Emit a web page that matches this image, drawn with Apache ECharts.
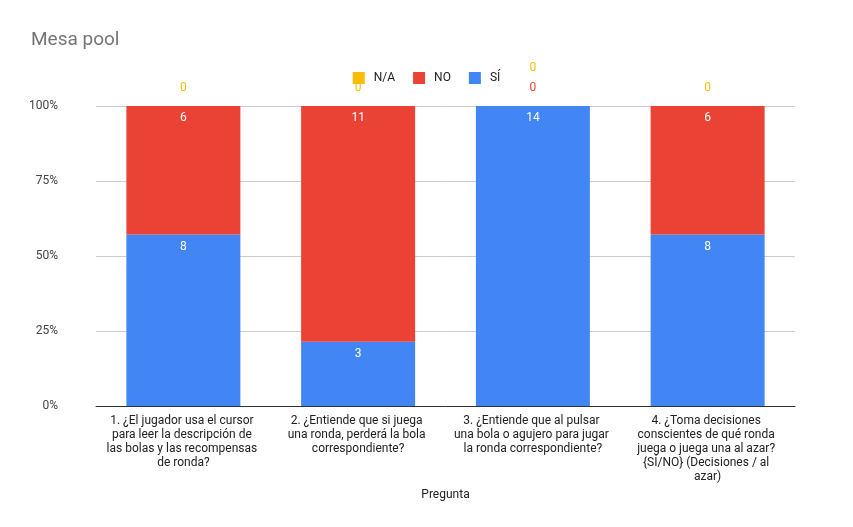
<!DOCTYPE html>
<html><head><meta charset="utf-8">
<script src="https://cdn.jsdelivr.net/npm/echarts@6/dist/echarts.min.js"></script>
<style>html,body{margin:0;padding:0;background:#fff}#c{width:853px;height:527px}</style>
</head><body><div id="c"></div>
<script>
var categories = [
  '1. ¿El jugador usa el cursor para leer la descripción de las bolas y las recompensas de ronda?',
  '2. ¿Entiende que si juega una ronda, perderá la bola correspondiente?',
  '3. ¿Entiende que al pulsar una bola o agujero para jugar la ronda correspondiente?',
  '4. ¿Toma decisiones conscientes de qué ronda juega o juega una al azar? {SÍ/NO} (Decisiones / al azar)'
];
var siValues = [8, 3, 14, 8];
var noValues = [6, 11, 0, 6];
var naValues = [0, 0, 0, 0];
var yTicks = ['0%', '25%', '50%', '75%', '100%'];

function pct(vals, i) {
  var t = siValues[i] + noValues[i] + naValues[i];
  return { value: vals[i] / t * 100, raw: vals[i] };
}
function build(vals, color, zeroDist) {
  return vals.map(function (v, i) {
    var d = pct(vals, i);
    if (v === 0) {
      d.label = { position: 'top', color: color, distance: zeroDist(i) };
    }
    return d;
  });
}
var font = 'Roboto, Arial, sans-serif';
var chart = echarts.init(document.getElementById('c'));
chart.setOption({
  animation: false,
  textStyle: { fontFamily: font },
  title: { text: 'Mesa pool', left: 26, top: 26, textStyle: { fontSize: 19, fontWeight: 'normal', color: '#757575', fontFamily: font } },
  legend: {
    top: 67, left: 'center', itemWidth: 12, itemHeight: 12, itemGap: 18, icon: 'rect',
    textStyle: { fontSize: 12, color: '#222', padding: [0, 0, 0, 4] },
    data: ['N/A', 'NO', 'SÍ']
  },
  grid: { left: 96, right: 58, top: 106, bottom: 121 },
  xAxis: {
    type: 'category', data: categories,
    name: 'Pregunta', nameLocation: 'middle', nameGap: 82,
    nameTextStyle: { fontSize: 12, color: '#222' },
    axisTick: { show: false },
    axisLine: { lineStyle: { color: '#333' } },
    axisLabel: { interval: 0, width: 160, overflow: 'break', fontSize: 12, color: '#222', lineHeight: 14, margin: 8 }
  },
  yAxis: {
    type: 'value', min: 0, max: 100, interval: 25,
    axisLabel: { formatter: function (v) { return yTicks[v / 25]; }, fontSize: 12, color: '#444', margin: 38 },
    splitLine: { lineStyle: { color: '#ccc' } }
  },
  series: [
    {
      name: 'SÍ', type: 'bar', stack: 's', barWidth: 114, color: '#4285f4',
      label: { show: true, position: 'insideTop', color: '#fff', fontSize: 12, distance: 6, formatter: function (p) { return p.data.raw; } },
      data: build(siValues, '#4285f4', function () { return 12; })
    },
    {
      name: 'NO', type: 'bar', stack: 's', color: '#ea4335',
      label: { show: true, position: 'insideTop', color: '#fff', fontSize: 12, distance: 6, formatter: function (p) { return p.data.raw; } },
      data: build(noValues, '#ea4335', function () { return 12; })
    },
    {
      name: 'N/A', type: 'bar', stack: 's', color: '#fbbc04',
      label: { show: true, position: 'top', color: '#fbbc04', fontSize: 12, formatter: function (p) { return p.data.raw; } },
      data: build(naValues, '#fbbc04', function (i) { return noValues[i] === 0 ? 32 : 12; })
    }
  ]
});
</script></body></html>
